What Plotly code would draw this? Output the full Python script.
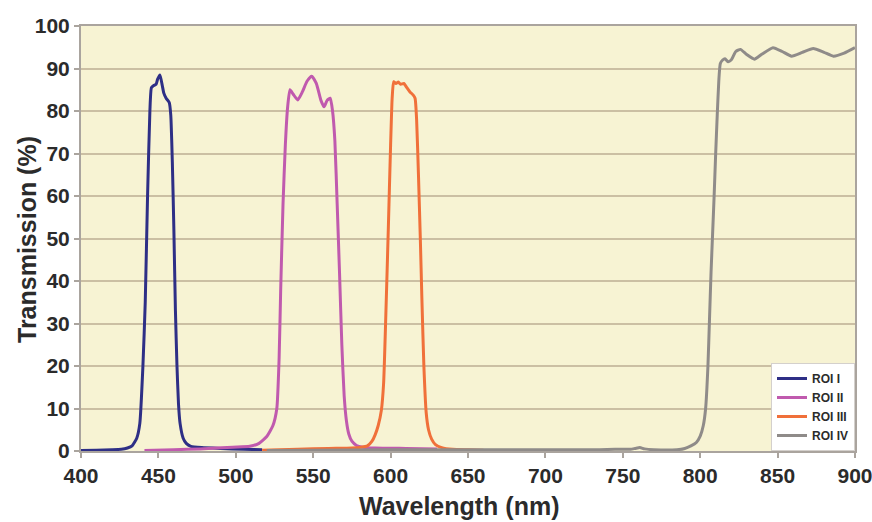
import plotly.graph_objects as go

# ---- data ----
roi1_wl = [400, 410, 420, 426, 430, 433, 436, 438, 440, 441.5, 443, 444.5, 445.5, 447, 448.5, 449.5, 451, 452.5, 453.5, 455, 457,
           458, 459, 460, 461, 462, 463, 464, 466, 468, 471, 478, 490, 505, 517]
roi1_t = [0.1, 0.2, 0.3, 0.4, 0.7, 1.2, 3, 6.5, 20, 35, 60, 80, 85.5, 86, 86.3, 87.5, 88.5, 86, 84.2, 83, 82,
          79, 68, 52, 33, 20, 11, 6.5, 3, 1.8, 1.1, 0.8, 0.6, 0.4, 0.3]

roi2_wl = [441, 460, 477, 498, 509, 515, 520, 524, 526.5, 528, 529, 530.5, 532, 533.5, 535, 537, 540, 543, 546, 549, 552, 555,
           557, 559, 561, 562.5, 564, 565.5, 567, 568.5, 570, 571.5, 573, 575, 578, 582, 590, 610, 630]
roi2_t = [0.1, 0.3, 0.5, 0.9, 1.1, 1.8, 3.4, 6, 10, 22, 38, 58, 72, 81, 85, 84, 82.6, 84.5, 87, 88.2, 86.5, 82.5,
          81, 82.5, 83, 80, 73, 58, 42, 25, 13, 7, 4, 2.3, 1.3, 0.9, 0.7, 0.6, 0.5]

roi3_wl = [517, 540, 560, 575, 581, 585, 588, 590, 592, 594, 595.5, 597, 598.5, 600, 601, 602, 603.5, 605, 606.5, 608.5, 610.5,
           612.5, 614.5, 615.8, 616.8, 618, 619.2, 620.2, 621.5, 623, 624.5, 626.5, 629, 633, 640, 650, 660]
roi3_t = [0.2, 0.4, 0.6, 0.7, 0.9, 1.2, 2.3, 3.8, 6, 9.5, 16, 33, 52, 72, 83, 86.9, 86.5, 86.8, 86.3, 86.5, 85.5,
          84.5, 83.8, 83, 78, 65, 50, 36, 20, 9, 5, 2.8, 1.5, 0.8, 0.4, 0.3, 0.2]

roi4_wl = [520, 550, 600, 650, 700, 735, 745, 755, 758, 761, 764, 770, 785, 790, 794, 797.5, 800, 802, 803.5, 805, 806,
           807, 808, 809, 810, 811, 812, 813, 814.5, 816, 818, 820, 823, 826, 830, 835, 840, 847, 853, 859, 866, 873, 880, 886, 893, 900]
roi4_t = [0.1, 0.2, 0.3, 0.3, 0.3, 0.3, 0.4, 0.4, 0.6, 0.8, 0.5, 0.3, 0.3, 0.6, 1.2, 2, 3.5, 6, 10, 20, 31,
          42, 51, 60, 70, 79, 87, 91.2, 92, 92.3, 91.6, 92, 94, 94.5, 93.3, 92.2, 93.4, 94.9, 94, 92.9, 93.8, 94.7, 93.8, 92.9, 93.6, 94.9]

series_names = ["ROI I", "ROI II", "ROI III", "ROI IV"]
series_colors = ["#2e2f86", "#c05aae", "#f0703a", "#8f8b89"]

x_ticks = [400, 450, 500, 550, 600, 650, 700, 750, 800, 850, 900]
y_ticks = [0, 10, 20, 30, 40, 50, 60, 70, 80, 90, 100]

FONT = "Liberation Sans, Arial, sans-serif"
TXT = "#2b2b2b"

fig = go.Figure()
for name, color, wl, t in zip(series_names, series_colors,
                              [roi1_wl, roi2_wl, roi3_wl, roi4_wl],
                              [roi1_t, roi2_t, roi3_t, roi4_t]):
    fig.add_trace(go.Scatter(x=wl, y=t, mode="lines", name=name,
                             line=dict(color=color, width=3, shape="spline", smoothing=0.5)))

fig.update_layout(
    width=872, height=522,
    margin=dict(l=81, r=17, t=26, b=71),
    paper_bgcolor="white",
    plot_bgcolor="#f7f3d3",
    font=dict(family=FONT, color=TXT),
    showlegend=True,
    legend=dict(x=1, y=0, xanchor="right", yanchor="bottom",
                bgcolor="white", bordercolor="#d4d0cc", borderwidth=1,
                font=dict(family=FONT, size=12, color=TXT, weight="bold"),
                itemwidth=30, tracegroupgap=0),
    xaxis=dict(range=[400, 900], tickvals=x_ticks, ticktext=[str(v) for v in x_ticks],
               showgrid=False, zeroline=False, automargin=False,
               showline=True, linecolor="#aaa49e", linewidth=2, mirror=True,
               ticks="outside", ticklen=5, tickcolor="#aaa49e", tickwidth=1.5,
               ticklabeloverflow="allow",
               tickfont=dict(family=FONT, size=21, color=TXT, weight="bold")),
    yaxis=dict(range=[0, 100], tickvals=y_ticks, ticktext=[str(v) for v in y_ticks],
               showgrid=True, gridcolor="#cbbfa3", gridwidth=1.5, zeroline=False, automargin=False,
               showline=True, linecolor="#aaa49e", linewidth=2, mirror=True,
               ticks="outside", ticklen=5, tickcolor="#aaa49e", tickwidth=1.5,
               ticklabeloverflow="allow",
               tickfont=dict(family=FONT, size=21, color=TXT, weight="bold")),
    annotations=[
        dict(text="Wavelength (nm)", xref="paper", yref="paper",
             x=(459 - 81) / 774, y=(451 - 506) / 425, xanchor="center", yanchor="middle",
             showarrow=False, font=dict(family=FONT, size=25, color=TXT, weight="bold")),
        dict(text="Transmission (%)", xref="paper", yref="paper",
             x=(27 - 81) / 774, y=(451 - 240) / 425, xanchor="center", yanchor="middle",
             textangle=-90, showarrow=False,
             font=dict(family=FONT, size=25, color=TXT, weight="bold")),
    ],
)

fig.write_html("out.html")
